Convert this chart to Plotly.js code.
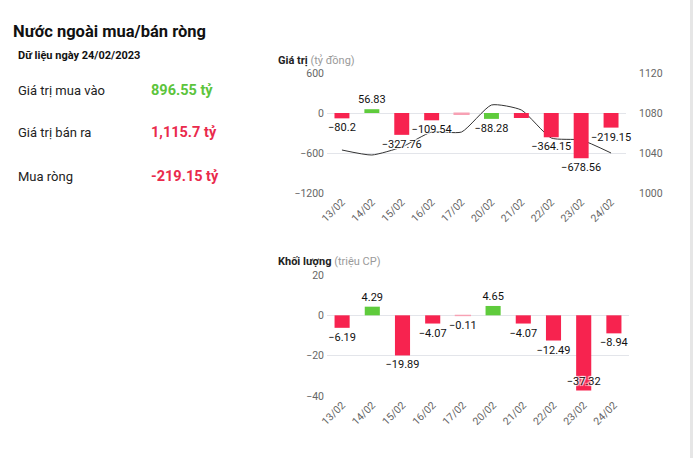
<!DOCTYPE html>
<html>
<head>
<meta charset="utf-8">
<script src="https://cdn.plot.ly/plotly-3.0.1.min.js"></script>
<style>
  html, body { margin: 0; padding: 0; background: #fff; }
  body { width: 693px; height: 458px; position: relative; overflow: hidden; font-family: Roboto, Arial, sans-serif; }
  .edge { position: absolute; left: 690px; top: 0; width: 3px; height: 458px; background: #e6e6e6; }
  .title { position: absolute; left: 13px; top: 22px; font-size: 16.5px; font-weight: bold; color: #111; white-space: nowrap; }
  .sub { position: absolute; left: 18px; top: 49px; font-size: 11px; font-weight: bold; color: #111; white-space: nowrap; }
  .row { position: absolute; left: 18px; font-size: 13px; color: #222; white-space: nowrap; }
  .val { position: absolute; left: 151px; font-size: 14.5px; font-weight: bold; white-space: nowrap; }
  .pos { color: #5cc43c; }
  .neg { color: #ea2a4c; }
  #valueChart { position: absolute; left: 270px; top: 45px; width: 420px; height: 190px; }
  #volumeChart { position: absolute; left: 270px; top: 250px; width: 420px; height: 200px; }
</style>
</head>
<body>
<div class="edge"></div>
<div class="title">Nước ngoài mua/bán ròng</div>
<div class="sub">Dữ liệu ngày 24/02/2023</div>
<div class="row" style="top:83px">Giá trị mua vào</div>
<div class="val pos" id="buyVal" style="top:82px"></div>
<div class="row" style="top:125px">Giá trị bán ra</div>
<div class="val neg" id="sellVal" style="top:124px"></div>
<div class="row" style="top:169px">Mua ròng</div>
<div class="val neg" id="netVal" style="top:168px"></div>
<div id="valueChart"></div>
<div id="volumeChart"></div>
<script>
// Trading sessions
const sessions = ['13/02', '14/02', '15/02', '16/02', '17/02', '20/02', '21/02', '22/02', '23/02', '24/02'];
// Net foreign trading value (tỷ đồng)
const netValue = [-80.2, 56.83, -327.76, -109.54, -20, -88.28, -75, -364.15, -678.56, -219.15];
// Sessions whose value label is not printed
const hiddenValueLabels = ['17/02', '21/02'];
// VN-Index close (right axis)
const indexClose = [1043, 1038, 1046, 1061, 1061, 1088, 1083, 1055, 1053, 1040];
// Net foreign trading volume (triệu CP)
const netVolume = [-6.19, 4.29, -19.89, -4.07, -0.11, 4.65, -4.07, -12.49, -37.32, -8.94];
// Summary for the latest session
const buyValue = '896.55';
const sellValue = '1,115.7';
const netLatest = '-219.15';

document.getElementById('buyVal').textContent = buyValue + ' tỷ';
document.getElementById('sellVal').textContent = sellValue + ' tỷ';
document.getElementById('netVal').textContent = netLatest + ' tỷ';

const GREEN = '#5fcb3c', RED = '#f7234f', PINK = '#f7a1b4';
const barColor = netVolume.map(v => Math.abs(v) < 1 ? PINK : (v > 0 ? GREEN : RED));
// near-zero sessions get a thin outline so the bar stays visible
const barOutline = netVolume.map(v => Math.abs(v) < 1 ? 1.2 : 0);
const fmt = v => String(v).replace('-', '\u2212');
const tickFont = { family: 'Roboto, Arial, sans-serif', size: 10.5, color: '#666' };
const labelFont = { family: 'Roboto, Arial, sans-serif', size: 11, color: '#111', shadow: '1px 1px 1px #fff, -1px -1px 1px #fff, 1px -1px 1px #fff, -1px 1px 1px #fff' };
const GRID = '#e3e5ea';
const xAxis = {
  type: 'category', tickangle: -45, tickfont: tickFont, showgrid: false,
  zeroline: false, showline: false, ticks: '', fixedrange: true
};
const config = { displayModeBar: false, staticPlot: true };

// Value chart: index line underneath, bars with labels drawn on the overlaying axis
Plotly.newPlot('valueChart', [
  {
    type: 'scatter', mode: 'lines', x: sessions, y: indexClose, yaxis: 'y',
    line: { color: '#333', width: 1, shape: 'spline', smoothing: 0.55 }, hoverinfo: 'skip'
  },
  {
    type: 'bar', x: sessions, y: netValue, yaxis: 'y2',
    marker: { color: barColor, line: { color: barColor, width: barOutline } },
    text: netValue.map((v, i) => hiddenValueLabels.includes(sessions[i]) ? '' : fmt(v)),
    textposition: 'outside', textangle: 0, textfont: labelFont, cliponaxis: false, constraintext: 'none'
  }
], {
  width: 420, height: 190,
  margin: { l: 57, r: 64, t: 28, b: 42 },
  paper_bgcolor: '#fff', plot_bgcolor: '#fff', showlegend: false, bargap: 0.5,
  title: {
    text: '<b>Giá trị</b> <span style="color:#9a9a9a">(tỷ đồng)</span>',
    font: { family: 'Roboto, Arial, sans-serif', size: 11, color: '#222' },
    xref: 'container', x: 8 / 420, xanchor: 'left', yref: 'container', y: 1 - 15 / 190, yanchor: 'middle'
  },
  xaxis: xAxis,
  yaxis: {
    side: 'right', range: [1000, 1120], tickvals: [1000, 1040, 1080, 1120],
    tickfont: tickFont, gridcolor: GRID, zeroline: false, ticks: '', ticklabelstandoff: 12
  },
  yaxis2: {
    overlaying: 'y', side: 'left', range: [-1200, 600], tickvals: [-1200, -600, 0, 600],
    tickfont: tickFont, showgrid: false, zeroline: false, ticks: '', ticklabelstandoff: 2
  }
}, config);

// Volume chart
Plotly.newPlot('volumeChart', [
  {
    type: 'bar', x: sessions, y: netVolume,
    marker: { color: barColor, line: { color: barColor, width: barOutline } },
    text: netVolume.map(fmt),
    textposition: netVolume.map(v => v < -30 ? 'inside' : 'outside'),
    insidetextanchor: 'end', textangle: 0,
    textfont: labelFont, insidetextfont: labelFont, outsidetextfont: labelFont,
    cliponaxis: false, constraintext: 'none'
  }
], {
  width: 420, height: 200,
  margin: { l: 57, r: 61, t: 25, b: 54 },
  paper_bgcolor: '#fff', plot_bgcolor: '#fff', showlegend: false, bargap: 0.5,
  title: {
    text: '<b>Khối lượng</b> <span style="color:#9a9a9a">(triệu CP)</span>',
    font: { family: 'Roboto, Arial, sans-serif', size: 11, color: '#222' },
    xref: 'container', x: 8 / 420, xanchor: 'left', yref: 'container', y: 1 - 11 / 200, yanchor: 'middle'
  },
  xaxis: xAxis,
  yaxis: {
    range: [-40, 20], tickvals: [-40, -20, 0, 20], tickfont: tickFont,
    gridcolor: GRID, zeroline: false, ticks: '', ticklabelstandoff: 2
  }
}, config);
</script>
</body>
</html>
